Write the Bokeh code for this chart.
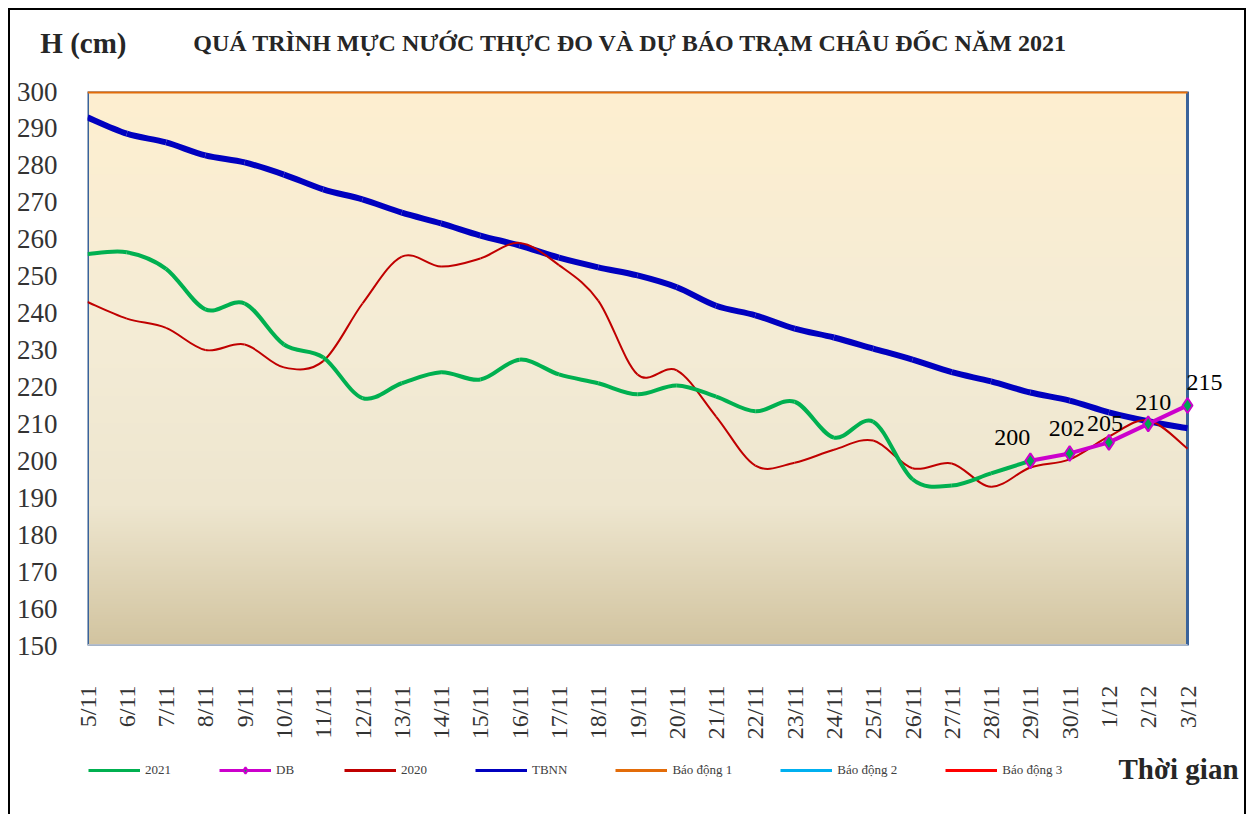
import numpy as np
from bokeh.plotting import figure
from bokeh.layouts import column
from bokeh.models import (Range1d, FixedTicker, Label, Legend, LegendItem,
                          ColumnDataSource)
from bokeh.embed import file_html
from bokeh.resources import INLINE
from bokeh.core.properties import value

# ---------------- data ----------------
dates = ["5/11", "6/11", "7/11", "8/11", "9/11", "10/11", "11/11", "12/11", "13/11",
         "14/11", "15/11", "16/11", "17/11", "18/11", "19/11", "20/11", "21/11", "22/11",
         "23/11", "24/11", "25/11", "26/11", "27/11", "28/11", "29/11", "30/11", "1/12",
         "2/12", "3/12"]

h2021_dates = dates[:25]
h2021 = [256, 256.5, 252, 241, 242.6, 231.5, 228, 217, 221, 224, 222, 227.4, 223.4,
         221, 218, 220.4, 217.4, 213.4, 216, 206.3, 210.6, 195, 193.3, 196.6, 200]

db_dates = ["29/11", "30/11", "1/12", "2/12", "3/12"]
db = [200, 202, 205, 210, 215]

h2020 = [243, 238.5, 236, 230, 231.5, 225.3, 227, 242.6, 255.3, 252.6, 254.8, 259,
         253, 243.4, 223.4, 224.5, 212, 198.7, 199.5, 203, 205.5, 198, 199.3, 193,
         198.2, 200.4, 206.6, 211, 203.3]

tbnn = [293, 288.6, 286.2, 282.7, 280.8, 277.5, 273.5, 270.8, 267.2, 264.3, 261,
        258.3, 255, 252.4, 250.2, 247, 242, 239.4, 235.8, 233.4, 230.4, 227.4, 224,
        221.5, 218.5, 216.3, 213.1, 210.7, 208.8]

# alert levels (levels 2 and 3 lie above the visible axis range)
bao_dong_1 = 300
bao_dong_2 = 400
bao_dong_3 = 450

y_ticks = list(range(150, 301, 10))

# label nudges for the DB value labels (pixels)
label_dx = [-18, -3, -4, 5, 17]
label_dy = [-23, -25, -19, -21, -23]

FONT = "Liberation Serif"
idx = {d: i for i, d in enumerate(dates)}
xs_all = [idx[d] for d in dates]
X_LAST = len(dates) - 1
Y_MIN, Y_MAX = y_ticks[0], y_ticks[-1]

# layout (pixels): plot area is 1100 px wide inside a 1161 px wide frame
PLOT_W, FRAME_W = 1100, 1161

C2021, CDB, C2020, CTBNN = "#00B050", "#CC00CC", "#C00000", "#0000BF"
CBD1, CBD2, CBD3 = "#E36C09", "#00B0F0", "#FF0000"


def smooth_source(xs, ys):
    """Bezier control points (Catmull-Rom style, like Excel smoothed lines)."""
    x = np.asarray(xs, float)
    y = np.asarray(ys, float)
    n = len(x)
    xp = np.concatenate([[x[0]], x, [x[-1]]])
    yp = np.concatenate([[y[0]], y, [y[-1]]])
    i = np.arange(n - 1)
    return ColumnDataSource(dict(
        x0=x[i], y0=y[i], x1=x[i + 1], y1=y[i + 1],
        cx0=x[i] + (xp[i + 2] - xp[i]) / 6, cy0=y[i] + (yp[i + 2] - yp[i]) / 6,
        cx1=x[i + 1] - (xp[i + 3] - xp[i + 1]) / 6, cy1=y[i + 1] - (yp[i + 3] - yp[i + 1]) / 6,
    ))


# ---------------- main chart ----------------
p = figure(width=1238, height=740, x_range=Range1d(0, X_LAST * FRAME_W / PLOT_W),
           y_range=Range1d(Y_MIN, Y_MAX), output_backend="svg", toolbar_location=None,
           min_border_left=77, min_border_right=0, min_border_top=81,
           min_border_bottom=105, border_fill_color="white",
           background_fill_color="white")
p.styles = {"border-left": "2px solid black", "border-top": "2px solid black",
            "border-right": "2px solid black"}

# background gradient of the plot area
H = 300
t = np.linspace(0, 1, H)
stops_t = [0.0, 0.25, 0.55, 1.0]
stops_c = [(0xD2, 0xC4, 0xA0), (0xEE, 0xE6, 0xCF), (0xF4, 0xEC, 0xD6), (0xFE, 0xEF, 0xD0)]
img = np.empty((H, 1), dtype=np.uint32)
view = img.view(dtype=np.uint8).reshape((H, 1, 4))
for k in range(3):
    view[:, 0, k] = np.interp(t, stops_t, [c[k] for c in stops_c]).astype(np.uint8)
view[:, 0, 3] = 255
p.image_rgba(image=[img], x=0, y=Y_MIN, dw=X_LAST, dh=Y_MAX - Y_MIN)

# plot-area border (blue sides, light grey bottom)
p.quad(left=0, right=X_LAST, bottom=Y_MIN, top=Y_MAX, fill_color=None,
       line_color="#3A639B", line_width=3)
p.segment(x0=0, y0=Y_MIN, x1=X_LAST, y1=Y_MIN, line_color="#B4BDCB", line_width=3)

p.grid.visible = False
p.outline_line_color = None

# axes
p.xaxis.ticker = FixedTicker(ticks=xs_all)
p.xaxis.major_label_overrides = {i: d for i, d in enumerate(dates)}
p.xaxis.major_label_orientation = np.pi / 2
p.yaxis.ticker = FixedTicker(ticks=y_ticks)
for ax in (p.xaxis[0], p.yaxis[0]):
    ax.major_tick_line_color = None
    ax.minor_tick_line_color = None
    ax.axis_line_color = None
    ax.major_label_text_font = FONT
    ax.major_label_text_color = "#333333"
p.xaxis.major_label_text_font_size = "24px"
p.yaxis.major_label_text_font_size = "27px"
p.xaxis.major_label_standoff = 34
p.yaxis.major_label_standoff = 24

# alert levels
p.line(xs_all, [bao_dong_3] * len(dates), line_color=CBD3, line_width=3)
p.line(xs_all, [bao_dong_2] * len(dates), line_color=CBD2, line_width=3)
p.line(xs_all, [bao_dong_1] * len(dates), line_color=CBD1, line_width=4)

# series
bz = dict(x0="x0", y0="y0", x1="x1", y1="y1", cx0="cx0", cy0="cy0", cx1="cx1", cy1="cy1")
p.bezier(**bz, source=smooth_source(xs_all, tbnn), line_color=CTBNN, line_width=6)
p.bezier(**bz, source=smooth_source(xs_all, h2020), line_color=C2020, line_width=2)
p.bezier(**bz, source=smooth_source([idx[d] for d in h2021_dates], h2021),
         line_color=C2021, line_width=4)

db_src = ColumnDataSource(dict(x=[idx[d] for d in db_dates], y=db,
                               txt=[str(v) for v in db], dx=label_dx, dy=label_dy))
p.line("x", "y", source=db_src, line_color=CDB, line_width=4)
p.scatter("x", "y", source=db_src, marker="diamond", size=15,
          fill_color="#00A651", line_color=CDB, line_width=2)
p.text("x", "y", text="txt", source=db_src, x_offset="dx", y_offset="dy",
       text_font=value(FONT), text_font_size="24px", text_color="#000000",
       text_align="center", text_baseline="middle")

# titles (data coordinates, drawn in the side panel so they are not clipped)
p.add_layout(Label(x=13.82, y=313.0,
                   text="QUÁ TRÌNH MỰC NƯỚC THỰC ĐO VÀ DỰ BÁO TRẠM CHÂU ĐỐC NĂM 2021",
                   text_font=FONT, text_font_size="24px", text_font_style="bold",
                   text_color="#262626", text_align="center", text_baseline="middle"), "above")
p.add_layout(Label(x=-1.2, y=313.0, text="H (cm)",
                   text_font=FONT, text_font_size="29px", text_font_style="bold",
                   text_color="#262626", text_align="left", text_baseline="middle"), "above")

# ---------------- legend strip ----------------
q = figure(width=1238, height=66, x_range=Range1d(0, 1), y_range=Range1d(0, 1),
           output_backend="svg", toolbar_location=None, x_axis_type=None,
           y_axis_type=None, min_border=0, border_fill_color="white",
           background_fill_color="white")
q.outline_line_color = None
q.grid.visible = False
q.styles = {"border-left": "2px solid black", "border-right": "2px solid black"}

# legend swatches: the same series drawn in this strip, where they fall outside its range
r2021 = q.line([idx[d] for d in h2021_dates], h2021, line_color=C2021, line_width=3)
rdb_l = q.line([idx[d] for d in db_dates], db, line_color=CDB, line_width=3)
rdb_m = q.scatter([idx[d] for d in db_dates], db, marker="diamond", size=11,
                  fill_color="#00A651", line_color=CDB, line_width=2)
r2020 = q.line(xs_all, h2020, line_color=C2020, line_width=3)
rtbnn = q.line(xs_all, tbnn, line_color=CTBNN, line_width=3)
rbd1 = q.line(xs_all, [bao_dong_1] * len(dates), line_color=CBD1, line_width=3)
rbd2 = q.line(xs_all, [bao_dong_2] * len(dates), line_color=CBD2, line_width=3)
rbd3 = q.line(xs_all, [bao_dong_3] * len(dates), line_color=CBD3, line_width=3)

items = [
    LegendItem(label="2021", renderers=[r2021]),
    LegendItem(label="DB", renderers=[rdb_l, rdb_m]),
    LegendItem(label="2020", renderers=[r2020]),
    LegendItem(label="TBNN", renderers=[rtbnn]),
    LegendItem(label="Báo động 1", renderers=[rbd1]),
    LegendItem(label="Báo động 2", renderers=[rbd2]),
    LegendItem(label="Báo động 3", renderers=[rbd3]),
]
legend = Legend(items=items, orientation="horizontal", location=(1, 36),
                background_fill_alpha=0, border_line_color=None, padding=0, margin=0,
                spacing=48, glyph_width=52, glyph_height=16, label_height=16,
                label_standoff=5, label_text_font=FONT, label_text_font_size="13px",
                label_text_color="#404040")
q.add_layout(legend, "center")
q.add_layout(Label(x=1031, y=46, x_units="screen", y_units="screen", text="Thời gian",
                   text_font=FONT, text_font_size="29px", text_font_style="bold",
                   text_color="#262626", text_align="left", text_baseline="middle"))

layout = column(p, q, spacing=0, styles={"margin-left": "8px", "margin-top": "8px"})
open("out.html", "w").write(file_html(layout, INLINE))
